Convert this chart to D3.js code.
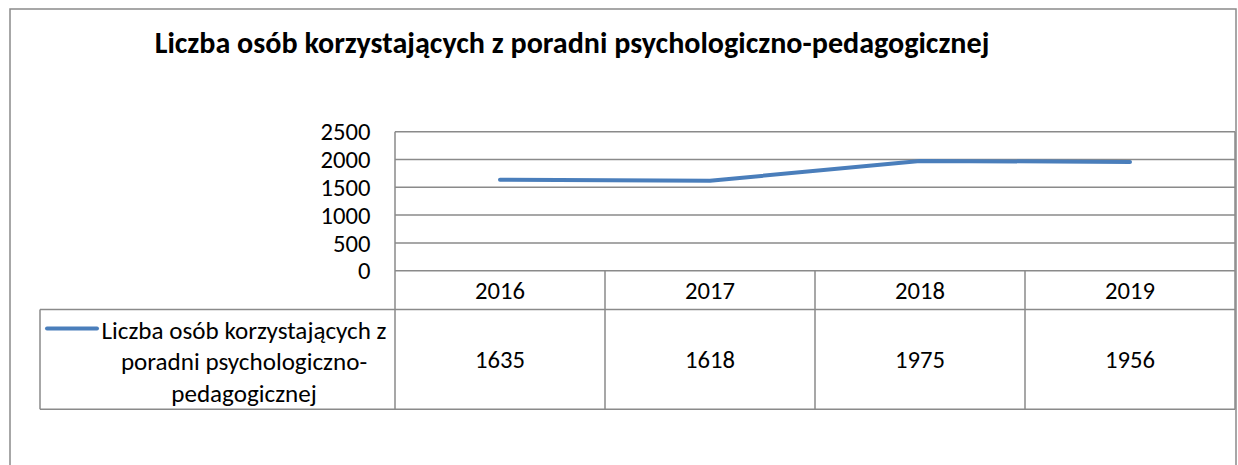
<!DOCTYPE html>
<html><head><meta charset="utf-8">
<script src="https://cdn.jsdelivr.net/npm/d3@7"></script>
<style>html,body{margin:0;padding:0;background:#fff;}svg{display:block;}</style>
</head><body>
<svg id="c" width="1238" height="465"></svg>
<script>
const title = "Liczba osób korzystających z poradni psychologiczno-pedagogicznej";
const categories = ["2016", "2017", "2018", "2019"];
const values = [1635, 1618, 1975, 1956];
const yTicks = [0, 500, 1000, 1500, 2000, 2500];
const seriesLabel = ["Liczba osób korzystających z", "poradni psychologiczno-", "pedagogicznej"];

const svg = d3.select("#c");
const FONT = "Carlito, Calibri, Lato, 'Open Sans', sans-serif";
const GRID = "#8a8a8a";
const BLUE = "#4a7ebb";

const L = 395, R = 1235, T = 131.7, B = 270.7;
const rowH = 309.5, rowB = 409.3, legL = 40;

const x = d3.scaleBand().domain(categories).range([L, R]);
const y = d3.scaleLinear().domain([0, 2500]).range([B, T]);

// outer border
svg.append("rect").attr("x", 10).attr("y", 9).attr("width", 1226).attr("height", 470)
  .attr("fill", "#fff").attr("stroke", GRID).attr("stroke-width", 1.5);

function fitText(sel, target) {
  const w = sel.node().getComputedTextLength();
  const fs = parseFloat(sel.attr("font-size"));
  sel.attr("font-size", fs * target / w);
}

// title
const t = svg.append("text").attr("x", 572).attr("y", 53).attr("text-anchor", "middle")
  .attr("font-family", FONT).attr("font-weight", "bold").attr("font-size", 20)
  .attr("fill", "#000").text(title);
fitText(t, 835);

// gridlines
svg.append("g").selectAll("line").data(yTicks).join("line")
  .attr("x1", L).attr("x2", R).attr("y1", d => y(d)).attr("y2", d => y(d))
  .attr("stroke", GRID).attr("stroke-width", 1.5);

// y axis tick labels
const yl = svg.append("g").selectAll("text").data(yTicks).join("text")
  .attr("x", 370.5).attr("y", d => y(d)).attr("dy", "0.35em").attr("text-anchor", "end")
  .attr("font-family", FONT).attr("font-size", 20).attr("fill", "#000").text(d => d);
{
  const n = yl.filter(d => d === 2500);
  const w = n.node().getComputedTextLength();
  yl.attr("font-size", 20 * 50 / w);
}
const fsBody = parseFloat(yl.attr("font-size"));

// table lines
const g = svg.append("g").attr("stroke", GRID).attr("stroke-width", 1.5);
g.append("line").attr("x1", L).attr("x2", L).attr("y1", T).attr("y2", rowB);
g.append("line").attr("x1", R).attr("x2", R).attr("y1", T).attr("y2", rowB);
categories.slice(1).forEach(c => {
  g.append("line").attr("x1", x(c)).attr("x2", x(c)).attr("y1", B).attr("y2", rowB);
});
g.append("line").attr("x1", legL).attr("x2", R).attr("y1", rowH).attr("y2", rowH);
g.append("line").attr("x1", legL).attr("x2", R).attr("y1", rowB).attr("y2", rowB);
g.append("line").attr("x1", legL).attr("x2", legL).attr("y1", rowH).attr("y2", rowB);

// category labels
svg.append("g").selectAll("text").data(categories).join("text")
  .attr("x", d => x(d) + x.bandwidth() / 2).attr("y", (B + rowH) / 2).attr("dy", "0.35em")
  .attr("text-anchor", "middle").attr("font-family", FONT).attr("font-size", fsBody)
  .attr("fill", "#000").text(d => d);

// values
svg.append("g").selectAll("text").data(values).join("text")
  .attr("x", (d, i) => x(categories[i]) + x.bandwidth() / 2).attr("y", (rowH + rowB) / 2).attr("dy", "0.35em")
  .attr("text-anchor", "middle").attr("font-family", FONT).attr("font-size", fsBody)
  .attr("fill", "#000").text(d => d);

// legend
svg.append("line").attr("x1", 47).attr("x2", 97).attr("y1", 328.5).attr("y2", 328.5)
  .attr("stroke", BLUE).attr("stroke-width", 4).attr("stroke-linecap", "round");
const lt = svg.append("g").selectAll("text").data(seriesLabel).join("text")
  .attr("x", 244).attr("y", (d, i) => 330 + i * 31.5).attr("dy", "0.35em")
  .attr("text-anchor", "middle").attr("font-family", FONT).attr("font-size", fsBody)
  .attr("fill", "#000").text(d => d);
{
  const w = lt.filter((d, i) => i === 0).node().getComputedTextLength();
  lt.attr("font-size", fsBody * 285 / w);
}

// line
const line = d3.line().x((d, i) => x(categories[i]) + x.bandwidth() / 2).y(d => y(d));
svg.append("path").datum(values).attr("d", line).attr("fill", "none")
  .attr("stroke", BLUE).attr("stroke-width", 4).attr("stroke-linecap", "round").attr("stroke-linejoin", "round");
</script>
</body></html>
